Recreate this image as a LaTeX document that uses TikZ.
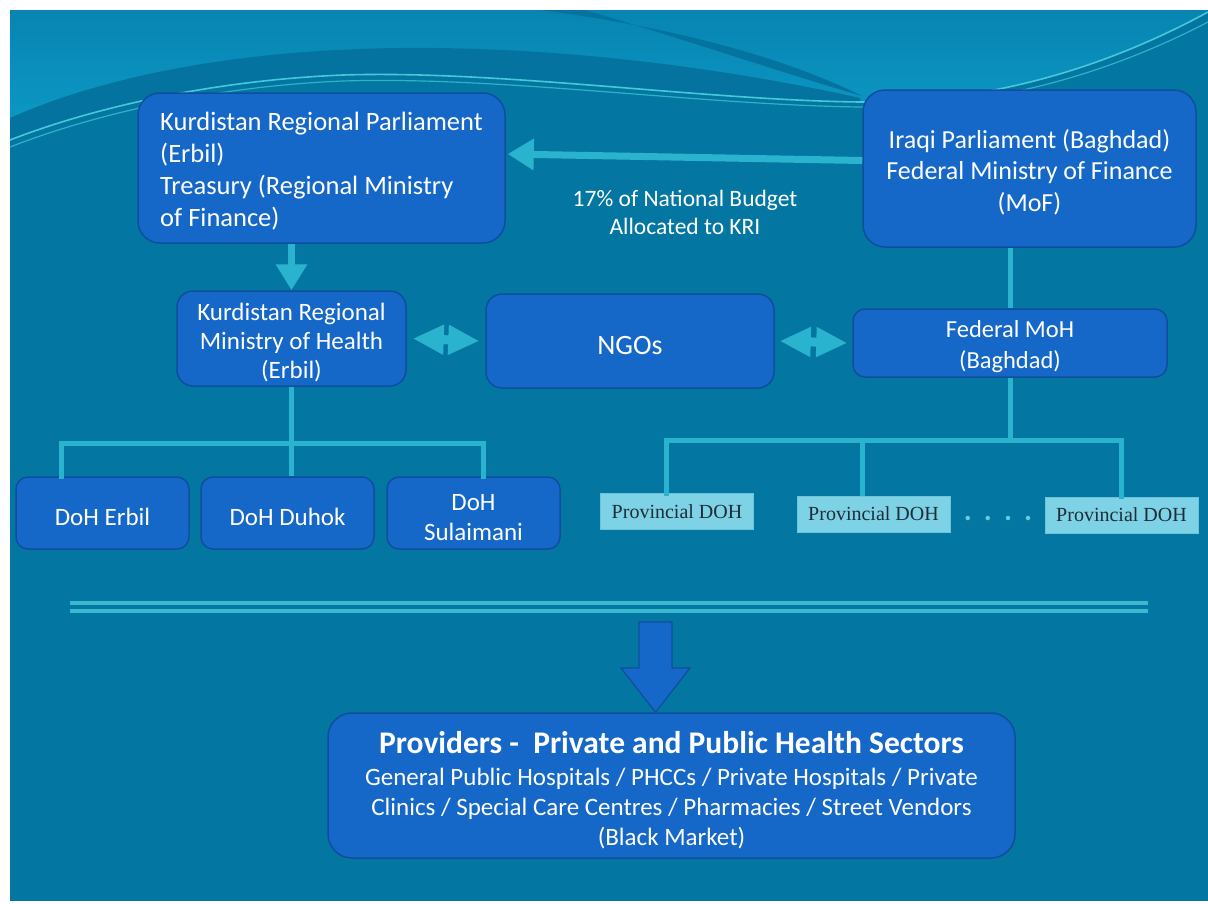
\documentclass[tikz,border=0pt]{standalone}
\usepackage{fontspec}
\setmainfont{Carlito}
\newfontfamily\provfont{Liberation Serif}
\usetikzlibrary{arrows.meta}

\definecolor{bgbase}{HTML}{0377A2}
\definecolor{bgdark}{HTML}{0573A0}
\definecolor{bgtop}{HTML}{0784B2}
\definecolor{bglow}{HTML}{0D9BC6}
\definecolor{waveline}{HTML}{45C9DA}
\definecolor{boxfill}{HTML}{1668C8}
\definecolor{boxedge}{HTML}{0F4E9E}
\definecolor{linkc}{HTML}{2AB3CF}
\definecolor{provfill}{HTML}{7DD3E5}
\definecolor{provedge}{HTML}{6CC4D8}
\definecolor{provtext}{HTML}{1F2C3A}

% invisible strut that gives the first line of a box a little more head room
\newcommand\headroom[1][1em]{\rule{0pt}{#1}}

\tikzset{
  box/.style={draw=boxedge, line width=1.5pt, fill=boxfill, rounded corners=16pt,
    text=white, align=center, inner sep=0pt, font=\fontsize{26.5}{31}\selectfont},
  dohbox/.style={box, rounded corners=12pt, minimum width=173pt, minimum height=72pt,
    font=\fontsize{25}{30}\selectfont},
  prov/.style={fill=provfill, draw=provedge, line width=0.8pt, text=provtext,
    inner sep=0pt, minimum width=153pt, minimum height=36pt,
    font=\provfont\fontsize{20}{22}\selectfont},
  link/.style={draw=linkc, line width=5pt},
  flow/.style={draw=linkc, line width=7pt, -{Triangle[length=26pt,width=30pt]}},
  both/.style={draw=linkc, line width=9pt,
    {Triangle[length=31pt,width=28pt]}-{Triangle[length=31pt,width=28pt]}},
  sep/.style={draw=waveline!80!bgbase, line width=4pt},
}

\begin{document}
\begin{tikzpicture}[x=1pt,y=-1pt]
\useasboundingbox (0,0) rectangle (1208,903);
\fill[white] (0,0) rectangle (1208,903);

% background
\fill[bgbase] (10,10) rectangle (1208,901);
% light sky above the wave
\shade[top color=bgtop, bottom color=bglow] (10,10) -- (1208,10) -- (1208,12)
  .. controls (1120,60) and (1000,104) .. (860,102)
  .. controls (700,100) and (500,70) .. (343,75)
  .. controls (220,80) and (100,105) .. (10,140) -- cycle;
% darker band under the dome
\fill[bgdark] (10,118) .. controls (100,78) and (230,50) .. (400,48)
  .. controls (600,46) and (780,80) .. (860,98)
  -- (860,102) .. controls (700,100) and (500,70) .. (343,75)
  .. controls (220,80) and (100,105) .. (10,140) -- cycle;
% thin dark swoosh from the top edge, fading into the wave
\fill[bgdark] (540,10) .. controls (680,28) and (790,60) .. (862,96)
  .. controls (780,72) and (680,38) .. (585,10) -- cycle;
% the wave lines
\draw[waveline, line width=1.6pt] (10,140)
  .. controls (100,105) and (220,80) .. (343,75)
  .. controls (500,70) and (700,100) .. (860,102)
  .. controls (1000,104) and (1120,60) .. (1208,12);
\draw[waveline!70!bgbase, line width=1.2pt] (10,147)
  .. controls (100,112) and (220,86) .. (343,81)
  .. controls (500,76) and (700,105) .. (860,107)
  .. controls (1000,109) and (1120,68) .. (1208,22);

% top level
\node[box, rounded corners=22pt, minimum width=367pt, minimum height=150pt, align=left,
  font=\fontsize{26.5}{32}\selectfont]
  (krp) at (321.5,168)
  {\headroom[0.9em]Kurdistan Regional Parliament\\(Erbil)\\Treasury (Regional Ministry\\of Finance)};
\node[box, rounded corners=22pt, minimum width=333pt, minimum height=157pt,
  font=\fontsize{26}{31.5}\selectfont]
  (iraq) at (1029.5,168.5)
  {\headroom Iraqi Parliament (Baghdad)\\Federal Ministry of Finance\\(MoF)};
\node[text=white, align=center, font=\fontsize{23.5}{28}\selectfont]
  (budget) at (685,212) {17\% of National Budget\\Allocated to KRI};

% ministries of health and NGOs
\node[box, minimum width=229pt, minimum height=95pt, font=\fontsize{25}{29}\selectfont]
  (krmoh) at (291.5,338.5) {\headroom Kurdistan Regional\\Ministry of Health\\(Erbil)};
\node[box, minimum width=288pt, minimum height=94pt, font=\fontsize{28}{31}\selectfont]
  (ngo) at (630,341) {\headroom NGOs};
\node[box, rounded corners=12pt, minimum width=314pt, minimum height=68pt,
  font=\fontsize{24.5}{31}\selectfont]
  (fmoh) at (1010,343) {\headroom Federal MoH\\(Baghdad)};

% directorates
\node[dohbox] (doh1) at (102.5,513) {\headroom DoH Erbil};
\node[dohbox] (doh2) at (287.5,513) {\headroom DoH Duhok};
\node[dohbox] (doh3) at (473.5,513) {\headroom DoH\\Sulaimani};
\node[prov] (prov1) at (677,511.5) {Provincial DOH};
\node[prov] (prov2) at (873.5,514) {Provincial DOH};
\node[prov] (prov3) at (1121.5,515) {Provincial DOH};
\node[text=linkc!70!white, font=\bfseries\fontsize{30}{30}\selectfont] (dots) at (998,518)
  {.\hspace{12pt}.\hspace{12pt}.\hspace{12pt}.};

% providers
\node[box, rounded corners=24pt, minimum width=687pt, minimum height=145pt,
  font=\fontsize{25}{30}\selectfont]
  (prov) at (671.5,785.5)
  {{\fontsize{31.5}{30}\selectfont\bfseries\headroom Providers -\ \ Private and Public Health Sectors}\\[2pt]
   General Public Hospitals / PHCCs / Private Hospitals / Private\\
   Clinics / Special Care Centres / Pharmacies / Street Vendors\\
   (Black Market)};

% funding flows
\draw[flow] ([yshift=8pt]iraq.west) -- ([yshift=14pt,xshift=2pt]krp.east);
\draw[flow] (krp.south -| krmoh.north) -- (krmoh.north);
\draw[link] (iraq.south -| fmoh.north) -- (fmoh.north);
\draw[both] ([xshift=6pt]krmoh.east) -- ([xshift=-6pt]ngo.west);
\draw[both] ([xshift=5pt]ngo.east) -- ([xshift=-5pt]fmoh.west);

% regional tree
\coordinate (lj) at (291.5,443);
\draw[link] (krmoh.south) -- (lj);
\draw[link, line cap=rect] ([xshift=46pt]doh1.north west) |- (lj);
\draw[link] (doh2.north -| lj) -- (lj);
\draw[link, line cap=rect] ([xshift=10pt]doh3.north) |- (lj);

% federal tree
\coordinate (rj) at (1010,440);
\draw[link] (fmoh.south) -- (rj);
\draw[link, line cap=rect] ([xshift=-11pt]prov1.north) |- (rj);
\draw[link] ([xshift=-11.5pt]prov2.north) -- ([xshift=-11.5pt]prov2.north |- rj);
\draw[link, line cap=rect] (prov3.north) |- (rj);

% separator and the arrow to the providers
\coordinate (s1) at (70,603);
\coordinate (s2) at (1148,603);
\coordinate (s3) at (70,611);
\coordinate (s4) at (1148,611);
\draw[sep] (s1) -- (s2);
\draw[sep] (s3) -- (s4);
\filldraw[fill=boxfill, draw=boxedge, line width=1.2pt]
  (639,622) -- (672,622) -- (672,668) -- (690,668) -- (prov.north -| 655.5,0)
  -- (621,668) -- (639,668) -- cycle;
\end{tikzpicture}
\end{document}
